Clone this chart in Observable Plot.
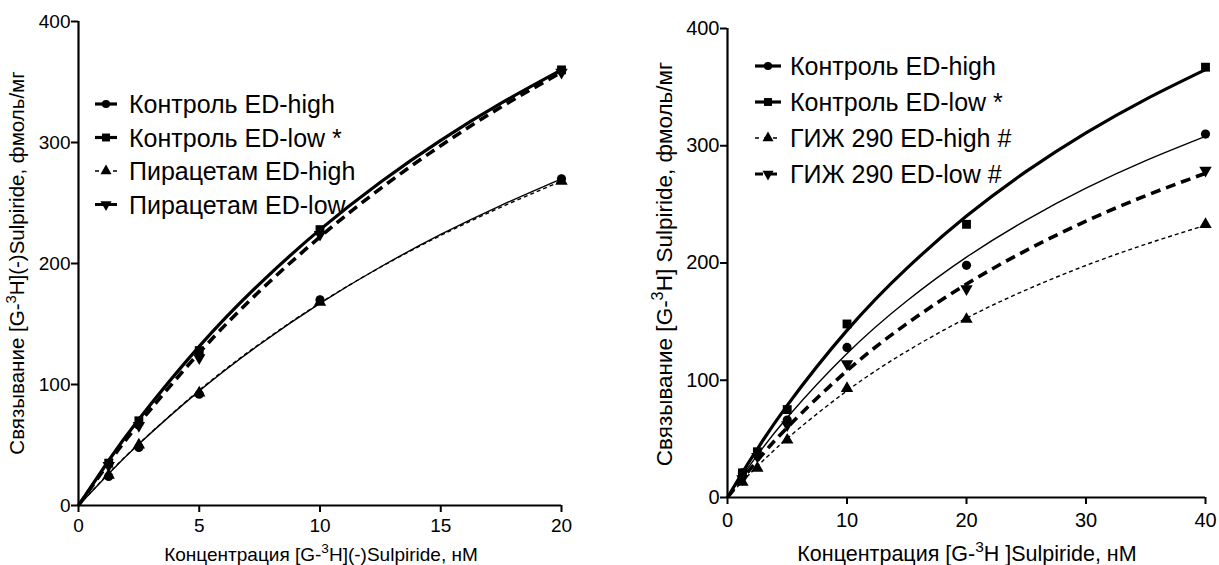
<!DOCTYPE html>
<html><head><meta charset="utf-8">
<script src="https://cdn.jsdelivr.net/npm/d3@7"></script>
<script src="https://cdn.jsdelivr.net/npm/@observablehq/plot@0.6"></script>
<style>
body{margin:0;background:#fff;font-family:"Liberation Sans",Arial,sans-serif}
#wrap{position:relative;width:1219px;height:565px;overflow:hidden;background:#fff}
#wrap svg{position:absolute;top:0;overflow:visible}
</style></head><body><div id="wrap"></div>
<script>
// ---------- Left panel data ----------
const leftConc = [1.25, 2.5, 5, 10, 20];
const leftCtrlHigh = [24, 48, 92, 170, 270];
const leftCtrlLow = [35, 70, 128, 228, 360];
const leftPiraHigh = [25, 50, 93, 168, 268];
const leftPiraLow = [33, 66, 122, 224, 358];
// fitted curves
const leftCurveX = [0, 1.25, 2.5, 5, 7.5, 10, 12.5, 15, 17.5, 20];
const leftCurveCtrlHigh = [0, 26.3, 50.8, 94.7, 133.1, 167, 197.1, 224, 248.1, 270];
const leftCurveCtrlLow = [0, 37.2, 71.3, 131.5, 183.2, 228, 267.2, 301.8, 332.5, 360];
const leftCurvePiraHigh = [0, 26.5, 51, 95.2, 133.6, 167.3, 196.9, 223.2, 246.6, 268];
const leftCurvePiraLow = [0, 35.2, 67.7, 126.2, 177.2, 222, 261.9, 297.4, 329.3, 358];
const leftTicksX = [0, 5, 10, 15, 20];
const leftTicksY = [0, 100, 200, 300, 400];
const leftLabels = ["Контроль ED-high", "Контроль ED-low *", "Пирацетам ED-high", "Пирацетам ED-low"];

// ---------- Right panel data ----------
const rightConc = [1.25, 2.5, 5, 10, 20, 40];
const rightCtrlHigh = [21, 36, 66, 128, 198, 310];
const rightCtrlLow = [21, 39, 75, 148, 233, 367];
const rightGizhHigh = [13, 25, 49, 93, 152, 233];
const rightGizhLow = [16, 35, 62, 114, 178, 279];
const rightCurveX = [0, 1.25, 2.5, 5, 10, 15, 20, 25, 30, 35, 40];
const rightCurveCtrlHigh = [0, 18.6, 36.1, 68.2, 122.8, 167.6, 205, 236.6, 263.8, 287.3, 308];
const rightCurveCtrlLow = [0, 21.3, 41.4, 78.6, 142.5, 195.4, 240, 278.1, 311, 339.6, 364.9];
const rightCurveGizhHigh = [0, 13.7, 26.5, 50.3, 91, 124.7, 153, 177.1, 197.9, 216, 232.2];
const rightCurveGizhLow = [0, 16.2, 31.5, 59.7, 108.1, 148.2, 182, 210.8, 235.7, 257.4, 276.5];
const rightTicksX = [0, 10, 20, 30, 40];
const rightTicksY = [0, 100, 200, 300, 400];
const rightLabels = ["Контроль ED-high", "Контроль ED-low *", "ГИЖ 290 ED-high #", "ГИЖ 290 ED-low #"];

const FONT = '"Liberation Sans", Arial, sans-serif';

// down-pointing triangle symbol
const triangleDown = {
  draw(ctx, size) {
    const y = -Math.sqrt(size / (Math.sqrt(3) * 3));
    const s3 = Math.sqrt(3);
    ctx.moveTo(0, -y * 2);
    ctx.lineTo(-s3 * y, y);
    ctx.lineTo(s3 * y, y);
    ctx.closePath();
  }
};

// line styles for the four series
const styles = [
  {symbol: "circle", r: 4.6, sw: 1.4, dash: null},
  {symbol: "square", r: 5.0, sw: 3.2, dash: null},
  {symbol: "triangle", r: 4.6, sw: 1.4, dash: "4,3"},
  {symbol: triangleDown, r: 4.6, sw: 3.6, dash: "10,6"}
];

function makePanel(cfg) {
  const pts = (ys) => cfg.conc.map((x, i) => ({x, y: ys[i]}));
  const crv = (ys) => cfg.curveX.map((x, i) => ({x, y: ys[i]}));
  const marks = [];
  cfg.curves.forEach((c, k) => {
    const st = styles[k];
    marks.push(Plot.line(crv(c), {x: "x", y: "y", curve: "natural", stroke: "black",
      strokeWidth: st.sw, strokeDasharray: st.dash, strokeLinecap: "butt"}));
  });
  cfg.points.forEach((p, k) => {
    const st = styles[k];
    marks.push(Plot.dot(pts(p), {x: "x", y: "y", symbol: () => st.symbol, r: st.r, fill: "black", stroke: "none"}));
  });
  marks.push(Plot.ruleY([0], {strokeWidth: 2.2}));
  marks.push(Plot.ruleX([0], {strokeWidth: 2.2}));
  marks.push(Plot.axisX({ticks: cfg.ticksX, tickSize: 7, strokeWidth: 2, fontSize: cfg.tickFont, tickPadding: cfg.xPad, label: null, fill: "black"}));
  marks.push(Plot.axisY({ticks: cfg.ticksY, tickSize: 7, strokeWidth: 2, fontSize: cfg.tickFont, tickPadding: 1, label: null, fill: "black"}));

  const svg = Plot.plot({
    width: cfg.width, height: 565,
    marginLeft: cfg.ml, marginRight: cfg.mr, marginTop: cfg.mt, marginBottom: cfg.mb,
    x: {domain: cfg.xDomain},
    y: {domain: [0, 400]},
    symbol: {type: "identity"},
    style: {fontFamily: FONT, color: "black", background: "white", overflow: "visible"},
    marks
  });
  svg.style.left = cfg.left + "px";
  const g = d3.select(svg);

  // axis titles with superscript
  const xt = g.append("text").attr("x", cfg.xTitlePos[0]).attr("y", cfg.xTitlePos[1])
    .attr("text-anchor", "middle").attr("font-size", cfg.xTitleFont).attr("font-family", FONT).attr("fill", "black");
  xt.append("tspan").text(cfg.xTitle[0]);
  xt.append("tspan").attr("dy", -cfg.xTitleFont * 0.4).attr("font-size", cfg.xTitleFont * 0.72).text("3");
  xt.append("tspan").attr("dy", cfg.xTitleFont * 0.4).text(cfg.xTitle[1]);

  const yt = g.append("text")
    .attr("transform", `translate(${cfg.yTitlePos[0]},${cfg.yTitlePos[1]}) rotate(-90)`)
    .attr("text-anchor", "middle").attr("font-size", cfg.yTitleFont).attr("font-family", FONT).attr("fill", "black");
  yt.append("tspan").text(cfg.yTitle[0]);
  yt.append("tspan").attr("dy", -cfg.yTitleFont * 0.4).attr("font-size", cfg.yTitleFont * 0.72).text("3");
  yt.append("tspan").attr("dy", cfg.yTitleFont * 0.4).text(cfg.yTitle[1]);

  // legend
  const lg = g.append("g").attr("text-anchor", "start");
  cfg.labels.forEach((lab, k) => {
    const st = styles[k];
    const y = cfg.legY + k * cfg.legDy;
    const x0 = cfg.legX, x1 = cfg.legX + cfg.legLen;
    lg.append("line").attr("x1", x0).attr("x2", x1).attr("y1", y).attr("y2", y)
      .attr("stroke", "black").attr("stroke-width", k === 2 ? 1.6 : 3.2)
      .attr("stroke-dasharray", st.dash ? (k === 2 ? "4,5" : "8,6") : null);
    const sym = typeof st.symbol === "string"
      ? {circle: d3.symbolCircle, square: d3.symbolSquare, triangle: d3.symbolTriangle}[st.symbol]
      : st.symbol;
    lg.append("path").attr("d", d3.symbol(sym, Math.PI * st.r * st.r * 0.8)())
      .attr("transform", `translate(${(x0 + x1) / 2},${y})`).attr("fill", "black");
    lg.append("text").attr("x", cfg.legTextX).attr("y", y).attr("dy", "0.36em")
      .attr("text-anchor", "start")
      .attr("font-size", cfg.legFont).attr("font-family", FONT).attr("fill", "black").text(lab);
  });
  document.getElementById("wrap").appendChild(svg);
}

makePanel({
  left: 0, width: 610, ml: 78, mr: 49, mt: 21, mb: 60, xPad: 6,
  xDomain: [0, 20], ticksX: leftTicksX, ticksY: leftTicksY, tickFont: 19,
  conc: leftConc, curveX: leftCurveX,
  points: [leftCtrlHigh, leftCtrlLow, leftPiraHigh, leftPiraLow],
  curves: [leftCurveCtrlHigh, leftCurveCtrlLow, leftCurvePiraHigh, leftCurvePiraLow],
  xTitle: ["Концентрация [G-", "H](-)Sulpiride, нМ"], xTitlePos: [321, 561], xTitleFont: 19,
  yTitle: ["Связывание [G-", "H](-)Sulpiride, фмоль/мг"], yTitlePos: [24, 263], yTitleFont: 20.5,
  labels: leftLabels, legX: 95, legLen: 22, legTextX: 129, legY: 104, legDy: 33.5, legFont: 25
});

makePanel({
  left: 610, width: 609, ml: 117, mr: 14, mt: 28, mb: 68, xPad: 8,
  xDomain: [0, 40], ticksX: rightTicksX, ticksY: rightTicksY, tickFont: 20,
  conc: rightConc, curveX: rightCurveX,
  points: [rightCtrlHigh, rightCtrlLow, rightGizhHigh, rightGizhLow],
  curves: [rightCurveCtrlHigh, rightCurveCtrlLow, rightCurveGizhHigh, rightCurveGizhLow],
  xTitle: ["Концентрация [G-", "H ]Sulpiride, нМ"], xTitlePos: [357, 561], xTitleFont: 21.5,
  yTitle: ["Связывание [G-", "H] Sulpiride, фмоль/мг"], yTitlePos: [62, 264], yTitleFont: 22.5,
  labels: rightLabels, legX: 145, legLen: 26, legTextX: 180, legY: 66, legDy: 36, legFont: 25
});
</script></body></html>
